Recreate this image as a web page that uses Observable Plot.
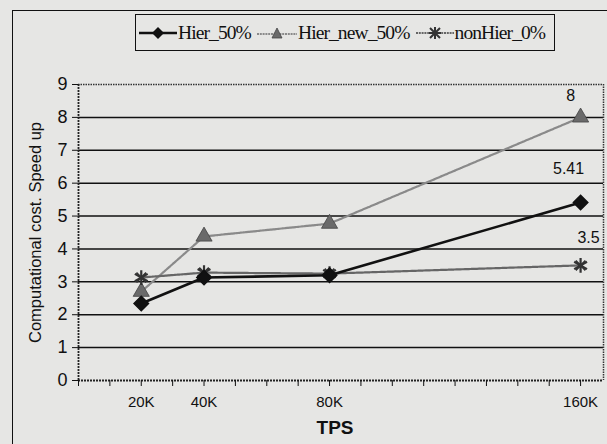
<!DOCTYPE html>
<html>
<head>
<meta charset="utf-8">
<script src="https://cdn.jsdelivr.net/npm/d3@7"></script>
<script src="https://cdn.jsdelivr.net/npm/@observablehq/plot@0.6"></script>
<style>
  html, body { margin: 0; padding: 0; background: #e6e6e4; }
  #wrap { position: relative; width: 607px; height: 444px; background: #e6e6e4; overflow: hidden; }
  #frame { position: absolute; left: 12px; top: 10px; width: 620px; height: 460px;
           border-left: 1.5px solid #111; border-top: 1.5px solid #111; }
  #legend { position: absolute; left: 135px; top: 14px; width: 418px; height: 35px;
            border: 1.5px solid #111; display: flex; align-items: center;
            font-family: "Liberation Serif", "DejaVu Serif", "Times New Roman", serif; font-size: 19.5px; color: #111;
            letter-spacing: -0.9px; }
  #legend .item { display: flex; align-items: center; margin-right: 3px; }
  #legend svg { margin: 0 1px 0 3px; }
  #chart { position: absolute; left: 0; top: 0; }
  #chart svg text { font-family: "Liberation Sans", Arial, "DejaVu Sans", sans-serif; }
</style>
</head>
<body>
<div id="wrap">
  <div id="frame"></div>
  <div id="chart"></div>
  <div id="legend"></div>
</div>
<script>
const tps = [20000, 40000, 80000, 160000];
const xTickLabels = ["20K", "40K", "80K", "160K"];
const seriesNames = ["Hier_50%", "Hier_new_50%", "nonHier_0%"];
const hier50 = [2.34, 3.13, 3.2, 5.41];
const hierNew50 = [2.7, 4.38, 4.77, 8];
const nonHier0 = [3.13, 3.28, 3.25, 3.5];
const yTicks = [0, 1, 2, 3, 4, 5, 6, 7, 8, 9];
const endLabels = ["8", "5.41", "3.5"];

const colors = {"Hier_50%": "#111", "Hier_new_50%": "#8a8a8a", "nonHier_0%": "#666"};
const values = [hier50, hierNew50, nonHier0];
const data = seriesNames.flatMap((s, i) => tps.map((t, j) => ({series: s, tps: t, v: values[i][j]})));
const bySeries = s => data.filter(d => d.series === s);
const last = s => bySeries(s).slice(-1);

const chart = Plot.plot({
  width: 607, height: 444,
  marginLeft: 78, marginRight: 4, marginTop: 84, marginBottom: 64,
  style: {background: "transparent", fontFamily: "'Liberation Sans', Arial, sans-serif"},
  x: {domain: [0, 167300]},
  y: {domain: [0, 9]},
  marks: [
    Plot.ruleY(yTicks.filter(d => d > 0 && d < 9), {stroke: "#111", strokeWidth: 1.5}),
    Plot.ruleY([9], {stroke: "#333", strokeWidth: 1.5, strokeDasharray: "1.5,1"}),
    Plot.ruleX([167300], {stroke: "#333", strokeWidth: 1.5, strokeDasharray: "1.5,1"}),
    Plot.ruleY([0], {stroke: "#222", strokeWidth: 1.8, strokeDasharray: "2,1"}),
    Plot.ruleX([0], {stroke: "#222", strokeWidth: 1.8, strokeDasharray: "2,1"}),
    Plot.axisY(yTicks, {tickSize: 6, tickPadding: 5, fontSize: 18, label: null, stroke: "#111", fill: "#111"}),
    Plot.axisX(d3.range(0, 170000, 10000), {tickSize: 6, tickFormat: () => "", label: null, stroke: "#111"}),
    Plot.axisX(tps, {tickSize: 0, tickPadding: 16, fontSize: 15, letterSpacing: -1.3, label: null, fill: "#111",
      tickFormat: d => xTickLabels[tps.indexOf(d)]}),
    Plot.text(["Computational cost. Speed up"], {frameAnchor: "left", textAnchor: "middle", dx: -43, rotate: -90, fontSize: 16.5, fill: "#111"}),
    Plot.text(["TPS"], {frameAnchor: "bottom", dy: 53, dx: -6, fontSize: 19, fontWeight: "bold", fill: "#111"}),
    Plot.line(bySeries("Hier_new_50%"), {x: "tps", y: "v", stroke: colors["Hier_new_50%"], strokeWidth: 2.2, strokeDasharray: "2,0.8"}),
    Plot.line(bySeries("nonHier_0%"), {x: "tps", y: "v", stroke: colors["nonHier_0%"], strokeWidth: 2.2, strokeDasharray: "2,0.8"}),
    Plot.line(bySeries("Hier_50%"), {x: "tps", y: "v", stroke: colors["Hier_50%"], strokeWidth: 2.6}),
    Plot.dot(bySeries("Hier_new_50%"), {x: "tps", y: "v", symbol: "triangle", r: 6, fill: "#6a6a6a", stroke: "#444", strokeWidth: 0.8}),
    Plot.dot(bySeries("nonHier_0%"), {x: "tps", y: "v", symbol: "asterisk", r: 7, stroke: "#333", strokeWidth: 2.2}),
    Plot.dot(bySeries("nonHier_0%"), {x: "tps", y: "v", symbol: "times", r: 4.5, stroke: "#333", strokeWidth: 1.8}),
    Plot.dot(bySeries("Hier_50%"), {x: "tps", y: "v", symbol: "diamond2", r: 6.5, fill: "#111", stroke: "#111"}),
    Plot.text(last("Hier_new_50%"), {x: "tps", y: "v", text: () => endLabels[0], dx: -10, dy: -22, fontSize: 16, fill: "#111"}),
    Plot.text(last("Hier_50%"), {x: "tps", y: "v", text: () => endLabels[1], dx: -12, dy: -34, fontSize: 16, letterSpacing: -1, fill: "#111"}),
    Plot.text(last("nonHier_0%"), {x: "tps", y: "v", text: () => endLabels[2], dx: 8, dy: -28, fontSize: 16, letterSpacing: -1, fill: "#111"})
  ]
});
document.getElementById("chart").appendChild(chart);

// Legend
const legend = document.getElementById("legend");
const symSvg = {
  "Hier_50%": `<svg width="38" height="14"><line x1="0" y1="7" x2="38" y2="7" stroke="#111" stroke-width="2.5"/><path d="M19,1 L25,7 L19,13 L13,7Z" fill="#111"/></svg>`,
  "Hier_new_50%": `<svg width="40" height="14"><line x1="0" y1="8" x2="40" y2="8" stroke="#8a8a8a" stroke-width="2" stroke-dasharray="2,0.8"/><path d="M20,2 L25,12 L15,12Z" fill="#6a6a6a" stroke="#444" stroke-width="0.8"/></svg>`,
  "nonHier_0%": `<svg width="38" height="14"><line x1="0" y1="7" x2="38" y2="7" stroke="#666" stroke-width="2" stroke-dasharray="2,0.8"/><path d="M14,2 L24,12 M24,2 L14,12 M19,1 L19,13 M13,7 L25,7" stroke="#333" stroke-width="2"/></svg>`
};
legend.innerHTML = seriesNames.map(s => `<span class="item">${symSvg[s]}<span>${s}</span></span>`).join("");
</script>
</body>
</html>
